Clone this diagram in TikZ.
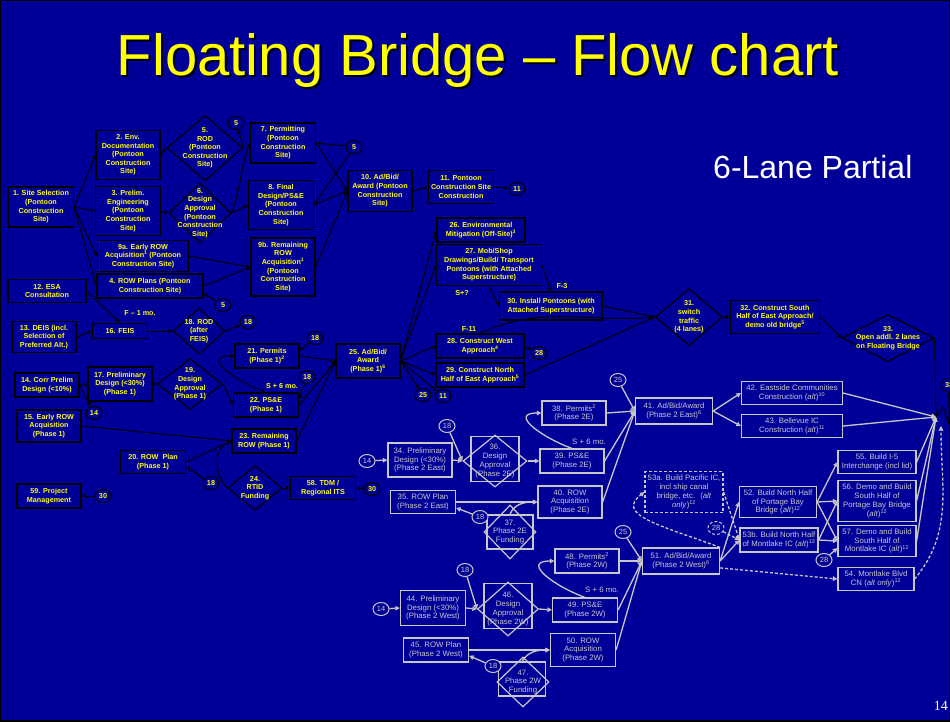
\documentclass[tikz,border=0pt]{standalone}
\usepackage{fontspec}
\setmainfont{Liberation Sans}
\setsansfont{Liberation Sans}
\newfontfamily\serifnum{Liberation Serif}
\usetikzlibrary{shapes.geometric,arrows.meta}
\definecolor{bg}{RGB}{0,0,153}
\definecolor{yel}{RGB}{255,255,0}
\definecolor{gry}{RGB}{200,200,200}
\begin{document}
\begin{tikzpicture}[x=1pt,y=-1pt,
  wh/.style 2 args={minimum width=#1, minimum height=#2},
  bx1/.style={rectangle, draw=black, line width=1.2pt, fill=bg, text=yel, font=\fontsize{7.2}{8.6}\selectfont\bfseries, align=center, inner sep=0.5pt},
  bx2/.style={rectangle, draw=gry, line width=1.2pt, fill=bg, text=gry, font=\fontsize{7.8}{8.8}\selectfont, align=center, inner sep=0.5pt},
  t1/.style={text=yel, font=\fontsize{7.2}{8.6}\selectfont\bfseries, align=center, inner sep=0pt},
  t2/.style={text=gry, font=\fontsize{7.8}{8.8}\selectfont, align=center, inner sep=0pt},
  dm1/.style={diamond, draw=black, line width=1.2pt, fill=bg, inner sep=0pt},
  dm2/.style={diamond, draw=gry, line width=1.2pt, inner sep=0pt},
  rb2/.style={rectangle, draw=gry, line width=1.2pt, inner sep=0pt},
  ci1/.style={ellipse, draw=black, line width=1pt, fill=bg, text=yel, font=\fontsize{7.2}{8}\selectfont\bfseries, inner sep=0pt, minimum width=16, minimum height=13},
  ci2/.style={ellipse, draw=gry, line width=1pt, fill=bg, text=gry, font=\fontsize{7.5}{8}\selectfont, inner sep=0pt, minimum width=16, minimum height=13},
  a1/.style={draw=black, line width=1pt, -{Triangle[length=4pt,width=3.6pt,fill=yel]}},
  a2/.style={draw=gry, line width=1.3pt, -{Triangle[length=4.5pt,width=4.5pt,open]}},
  dsh/.style={dash pattern=on 3pt off 2pt}
]
\useasboundingbox (0,0) rectangle (950,721);
\fill[bg] (0,0) rectangle (950,721);
\draw[black,line width=2pt] (0,0) rectangle (950,721);

% titles
\node[anchor=base, text=black, font=\fontsize{58}{60}\selectfont] (titleshadow) at (480,77) {Floating Bridge \textendash{} Flow chart};
\node[anchor=base, text=yel, font=\fontsize{58}{60}\selectfont] (title) at (478,75) {Floating Bridge \textendash{} Flow chart};
\node[anchor=base west, text=white, font=\fontsize{32}{34}\selectfont, inner sep=0pt] (subtitle) at (713,178) {6-Lane Partial};
\node[anchor=base east, text=white, font=\serifnum\fontsize{14}{16}\selectfont, inner sep=0pt] (pagenum) at (948,710) {14};

% ---------- Phase 1 boxes ----------
\node[bx1, wh={65}{40}] (n1) at (41,207) {1. Site Selection\\(Pontoon\\Construction\\Site)};
\node[bx1, wh={64}{49}] (n2) at (128,155) {2. Env.\\Documentation\\(Pontoon\\Construction\\Site)};
\node[bx1, wh={65}{49}] (n3) at (128,211) {3. Prelim.\\Engineering\\(Pontoon\\Construction\\Site)};
\node[bx1, wh={65}{40}] (n7) at (283,143) {7. Permitting\\(Pontoon\\Construction\\Site)};
\node[bx1, wh={65}{49}] (n8) at (281,205) {8. Final\\Design/PS\&E\\(Pontoon\\Construction\\Site)};
\node[bx1, wh={91}{31}] (n9a) at (143,256) {9a. Early ROW\\Acquisition\textsuperscript{1} (Pontoon\\Construction Site)};
\node[bx1, wh={64}{58}] (n9b) at (283,267) {9b. Remaining\\ROW\\Acquisition\textsuperscript{1}\\(Pontoon\\Construction\\Site)};
\node[bx1, wh={106}{24}] (n4) at (150,286) {4. ROW Plans (Pontoon\\Construction Site)};
\node[bx1, wh={78}{23}] (n12) at (47,291) {12. ESA\\Consultation};
\node[bx1, wh={64}{41}] (n10) at (380,191) {10. Ad/Bid/\\Award (Pontoon\\Construction\\Site)};
\node[bx1, wh={65}{33}] (n11) at (461,187) {11. Pontoon\\Construction Site\\Construction};
\node[bx1, wh={88}{24}] (n26) at (481,230) {26. Environmental\\Mitigation (Off-Site)\textsuperscript{3}};
\node[bx1, wh={105}{41}] (n27) at (489,265) {27. Mob/Shop\\Drawings/Build/ Transport\\Pontoons (with Attached\\Superstructure)};
\node[bx1, wh={103}{28}] (n30) at (551,306) {30. Install Pontoons (with\\Attached Superstructure)};
\node[bx1, wh={89}{33}] (n32) at (775,317) {32. Construct South\\Half of East Approach/\\demo old bridge\textsuperscript{5}};
\node[bx1, wh={64}{31}] (n13) at (44,337) {13. DEIS (incl.\\Selection of\\Preferred Alt.)};
\node[bx1, wh={55}{15}] (n16) at (120,331) {16. FEIS};
\node[bx1, wh={64}{24}] (n21) at (267,356) {21. Permits\\(Phase 1)\textsuperscript{2}};
\node[bx1, wh={65}{24}] (n22) at (266,405) {22. PS\&E\\(Phase 1)};
\node[bx1, wh={64}{24}] (n14) at (47,385) {14. Corr Prelim\\Design (<10\%)};
\node[bx1, wh={64}{34}] (n17) at (120,384) {17. Preliminary\\Design (<30\%)\\(Phase 1)};
\node[bx1, wh={64}{32}] (n15) at (49,426) {15. Early ROW\\Acquisition\\(Phase 1)};
\node[bx1, wh={64}{24}] (n23) at (264,441) {23. Remaining\\ROW (Phase 1)};
\node[bx1, wh={65}{23}] (n20) at (153,462) {20. ROW~ Plan\\(Phase 1)};
\node[bx1, wh={65}{23}] (n58) at (323,488) {58. TDM /\\Regional ITS};
\node[bx1, wh={64}{24}] (n59) at (49,496) {59. Project\\Management};
\node[bx1, wh={64}{34}] (n25) at (368,361) {25. Ad/Bid/\\Award\\(Phase 1)\textsuperscript{6}};
\node[bx1, wh={88}{24}] (n28) at (480,346) {28. Construct West\\Approach\textsuperscript{4}};
\node[bx1, wh={88}{24}] (n29) at (480,375) {29. Construct North\\Half of East Approach\textsuperscript{5}};

% Phase 1 diamonds
\node[dm1, wh={76}{65}, label={[t1]center:{5.\\ROD\\(Pontoon\\Construction\\Site)}}] (n5) at (205,148) {};
\node[dm1, wh={62}{60}, label={[t1]center:{6.\\Design\\Approval\\(Pontoon\\Construction\\Site)}}] (n6) at (200,213) {};
\node[dm1, wh={52}{46}, label={[t1]center:{18. ROD\\(after\\FEIS)}}] (n18) at (199,331) {};
\node[dm1, wh={65}{51}, label={[t1]center:{19.\\Design\\Approval\\(Phase 1)}}] (n19) at (190,384) {};
\node[dm1, wh={54}{45}, label={[t1]center:{24.\\RTID\\Funding}}] (n24) at (255,488) {};
\node[dm1, wh={67}{57}, label={[t1]center:{31.\\switch\\traffic\\(4 lanes)}}] (n31) at (689,317) {};
\node[dm1, wh={92}{47}, label={[t1]center:{33.\\Open addl. 2 lanes\\on Floating Bridge}}] (n33) at (888,338) {};

% Phase 1 circles
\node[ci1] (c5a) at (236,123) {5};
\node[ci1] (c5b) at (223,305) {5};
\node[ci1] (c5c) at (354,147) {5};
\node[ci1] (c11a) at (517,189) {11};
\node[ci1] (c18a) at (248,322) {18};
\node[ci1] (c18b) at (315,338) {18};
\node[ci1] (c18c) at (307,377) {18};
\node[ci1] (c14a) at (94,413) {14};
\node[ci1] (c18d) at (211,483) {18};
\node[ci1] (c30a) at (372,489) {30};
\node[ci1] (c30b) at (103,496) {30};
\node[ci1] (c25a) at (423,395) {25};
\node[ci1] (c11b) at (443,396) {11};
\node[ci1] (c28a) at (539,353) {28};
\node[ci1] (c33) at (949,385) {33};

% Phase 1 labels
\node[t1] (lf1) at (140,313) {F \textendash{} 1 mo.};
\node[t1] (ls6a) at (282,386) {S + 6 mo.};
\node[t1] (lsq) at (462,293) {S+?};
\node[t1] (lf3) at (562,286) {F-3};
\node[t1] (lf11) at (469,329) {F-11};

% ---------- Phase 2 boxes ----------
\node[bx2, wh={64}{24}] (n38) at (574,413) {38. Permits\textsuperscript{2}\\(Phase 2E)};
\node[bx2, wh={64}{34}] (n34) at (420,460) {34. Preliminary\\Design (<30\%)\\(Phase 2 East)};
\node[bx2, wh={64}{24}] (n39) at (572,461) {39. PS\&E\\(Phase 2E)};
\node[bx2, wh={65}{23}] (n35) at (423,502) {35. ROW Plan\\(Phase 2 East)};
\node[bx2, wh={64}{32}] (n40) at (570,502) {40. ROW\\Acquisition\\(Phase 2E)};
\node[bx2, wh={77}{26}] (n41) at (674,411) {41. Ad/Bid/Award\\(Phase 2 East)\textsuperscript{6}};
\node[bx2, wh={101}{23}] (n42) at (792,393) {42. Eastside Communities\\Construction (\textit{alt})\textsuperscript{10}};
\node[bx2, wh={101}{23}] (n43) at (792,426) {43. Bellevue IC\\Construction (\textit{alt})\textsuperscript{11}};
\node[bx2, wh={78}{23}] (n55) at (877,462) {55. Build I-5\\Interchange (incl lid)};
\node[bx2, dsh, wh={78}{41}] (n53a) at (684,492) {53a. Build Pacific IC,\\incl ship canal\\bridge, etc.~ (\textit{alt}\\\textit{only})\textsuperscript{12}};
\node[bx2, wh={77}{31}] (n52) at (778,502) {52. Build North Half\\of Portage Bay\\Bridge (\textit{alt})\textsuperscript{12}};
\node[bx2, wh={78}{41}] (n56) at (877,501) {56. Demo and Build\\South Half of\\Portage Bay Bridge\\(\textit{alt})\textsuperscript{12}};
\node[bx2, wh={78}{24}] (n53b) at (779,540) {53b. Build North Half\\of Montlake IC (\textit{alt})\textsuperscript{12}};
\node[bx2, wh={78}{31}] (n57) at (877,541) {57. Demo and Build\\South Half of\\Montlake IC (\textit{alt})\textsuperscript{12}};
\node[bx2, wh={77}{26}] (n51) at (681,561) {51. Ad/Bid/Award\\(Phase 2 West)\textsuperscript{6}};
\node[bx2, wh={76}{23}] (n54) at (876,579) {54. Montlake Blvd\\CN (\textit{alt only})\textsuperscript{12}};
\node[bx2, wh={64}{24}] (n48) at (587,561) {48. Permits\textsuperscript{2}\\(Phase 2W)};
\node[bx2, wh={65}{35}] (n44) at (433,608) {44. Preliminary\\Design (<30\%)\\(Phase 2 West)};
\node[bx2, wh={65}{24}] (n49) at (585,610) {49. PS\&E\\(Phase 2W)};
\node[bx2, wh={65}{24}] (n45) at (436,650) {45. ROW Plan\\(Phase 2 West)};
\node[bx2, wh={65}{33}] (n50) at (583,650) {50. ROW\\Acquisition\\(Phase 2W)};

% Phase 2 diamonds with frames
\node[rb2, wh={48}{45}] (n36r) at (495,459) {};
\node[dm2, wh={64}{52}, label={[t2]center:{36.\\Design\\Approval\\(Phase 2E)}}] (n36) at (495,461) {};
\node[rb2, wh={46}{34}] (n37r) at (510,532) {};
\node[dm2, wh={52}{54}, label={[t2]center:{37.\\Phase 2E\\Funding}}] (n37) at (510,532) {};
\node[rb2, wh={48}{45}] (n46r) at (508,606) {};
\node[dm2, wh={61}{54}, label={[t2]center:{46.\\Design\\Approval\\(Phase 2W)}}] (n46) at (508,609) {};
\node[rb2, wh={47}{34}] (n47r) at (522,679) {};
\node[dm2, wh={52}{50}, label={[t2]center:{47.\\Phase 2W\\Funding}}] (n47) at (523,682) {};

% Phase 2 circles
\node[ci2] (c25b) at (618,380) {25};
\node[ci2] (c18e) at (447,426) {18};
\node[ci2] (c14b) at (367,461) {14};
\node[ci2] (c18f) at (480,517) {18};
\node[ci2] (c25c) at (623,532) {25};
\node[ci2, dsh] (c28b) at (716,528) {28};
\node[ci2] (c28c) at (824,560) {28};
\node[ci2] (c18g) at (465,570) {18};
\node[ci2] (c14c) at (381,609) {14};
\node[ci2] (c18h) at (493,666) {18};

% Phase 2 labels
\node[t2] (ls6b) at (589,442) {S + 6 mo.};
\node[t2] (ls6c) at (602,590) {S + 6 mo.};

\coordinate (conv) at (936,417);
\coordinate (convb) at (941,426);
\coordinate (z1) at (943,407);
\coordinate (z2) at (949,424);

% ---------- Phase 1 connectors ----------
\draw[a1] (n1.east) -- (n2.west);
\draw[a1] (n1.east) -- (n3.west);
\draw[a1] (n1.east) -- (n9a.west);
\draw[a1] (n1.east) -- (n4.west);
\draw[a1] (n2.east) -- (n5.west);
\draw[a1] (n3.east) -- (n6.west);
\draw[a1] (n5.east) -- (c5a);
\draw[a1] (n6.east) to[out=70,in=250] (n7.west);
\draw[a1] (n6.east) -- (n8.west);
\draw[a1] (n9a.east) -- (n9b.west);
\draw[a1] (n4.east) -- (n9b.west);
\draw[a1] (c5b) -- (n4.-8);
\draw[a1] (c5c) -- (n7.east);
\draw[a1] (c5c) -- (n8.east);
\draw[a1] (n7.east) -- (n10.west);
\draw[a1] (n8.east) -- (n10.west);
\draw[a1] (n9b.east) -- (n10.west);
\draw[a1] (n10.east) -- (n11.west);
\draw[a1] (n11.east) -- (c11a);
\draw[a1] (n12.east) -- (n16.north);
\draw[a1] (n13.east) -- (n16.west);
\draw[a1] (n16.east) -- (n18.west);
\draw[a1] (n18.east) -- (c18a);
\draw[a1] (n14.east) -- (n17.west);
\draw[a1] (n14.east) -- (c14a);
\draw[a1] (n17.east) -- (n19.west);
\draw[a1] (n19.east) -- (n22.west);
\draw[a1] (n22.north) to[out=160,in=180,looseness=1.8] (n21.west);
\draw[a1] (c18b) -- (n21.10);
\draw[a1] (n21.east) -- (n25.west);
\draw[a1] (c18c) -- (n22.10);
\draw[a1] (n22.east) -- (n25.west);
\draw[a1] (n23.east) -- (n25.west);
\draw[a1] (n15.east) -- (n23.west);
\draw[a1] (n20.east) -- (n23.west);
\draw[a1] (n24.west) .. controls (215,475) and (212,450) .. (n23.west);
\draw[a1] (c18d) -- (n20.-8);
\draw[a1] (n24.east) -- (n58.west);
\draw[a1] (c30a) -- (n58.east);
\draw[a1] (c30b) -- (n59.east);
\draw[a1] (n25.east) -- (n26.west);
\draw[a1] (n25.east) -- (n27.west);
\draw[a1] (n25.east) -- (n28.west);
\draw[a1] (n25.east) -- (n29.west);
\draw[a1] (n25.east) -- (c25a);
\draw[a1] (n25.east) -- (c11b);
\draw[a1] (n27.south) -- (n30.west);
\draw[a1] (n27.east) -- (n30.north);
\draw[a1] (n30.east) -- (n31.west);
\draw[a1] (n28.north) to[out=25,in=185] (n31.west);
\draw[a1] (n29.east) -- (n31.west);
\draw[a1] (n28.east) -- (c28a);
\draw[a1] (n31.east) -- (n32.west);
\draw[a1] (n32.east) -- (n33.west);
\draw[a1] (n33.east) -- (conv);
\draw[a1] (conv) -- (z1) -- (z2) -- (c33);

% ---------- Phase 2 connectors ----------
\draw[a2] (c14b) -- (n34.west);
\draw[a2] (n34.east) -- (n36.west);
\draw[a2] (c18e) -- (n36.west);
\draw[a2] (n36.east) -- (n39.west);
\draw[a2] (n39.north) to[out=160,in=180,looseness=1.8] (n38.west);
\draw[a2] (n38.east) -- (n41.west);
\draw[a2] (n39.east) -- (n41.west);
\draw[a2] (n40.east) -- (n41.west);
\draw[a2] (c25b) -- (n41.west);
\draw[a2] (n35.east) -- (n40.west);
\draw[a2] (c18f) -- (n35.-10);
\draw[a2] (n37r.north) to[out=70,in=180] (n40.west);
\draw[a2] (n41.east) -- (n42.west);
\draw[a2] (n41.east) -- (n43.west);
\draw[a2] (n42.east) -- (conv);
\draw[a2] (n43.east) -- (conv);
\draw[a2] (n55.east) -- (conv);
\draw[a2] (n56.east) -- (conv);
\draw[a2] (n57.east) -- (conv);
\draw[a2,dsh] (n54.east) to[out=50,in=-90] (convb);
\draw[a2] (n51.east) -- (n52.west);
\draw[a2] (n51.east) -- (n53b.west);
\draw[a2,dsh] (n51.-10) -- (n54.west);
\draw[a2,dsh] (n51.north east) .. controls (660,525) and (615,515) .. (n53a.west);
\draw[a2,dsh] (n53a.east) -- (n53b.west);
\draw[a2,dsh] (c28b) -- (n53b.west);
\draw[a2] (n52.east) -- (n55.west);
\draw[a2] (n52.east) -- (n56.west);
\draw[a2] (n52.east) -- (n57.west);
\draw[a2] (n53b.east) -- (n56.west);
\draw[a2] (n53b.east) -- (n57.west);
\draw[a2] (c28c) -- (n57.190);
\draw[a2] (c25c) -- (n51.west);
\draw[a2] (n48.east) -- (n51.west);
\draw[a2] (n49.east) -- (n51.west);
\draw[a2] (n50.east) -- (n51.west);
\draw[a2] (c14c) -- (n44.west);
\draw[a2] (n44.east) -- (n46.west);
\draw[a2] (c18g) -- (n46.west);
\draw[a2] (n46.east) -- (n49.west);
\draw[a2] (n49.north) to[out=160,in=180,looseness=1.8] (n48.west);
\draw[a2] (n45.east) -- (n50.west);
\draw[a2] (c18h) -- (n45.-10);
\draw[a2] (n47r.north) to[out=60,in=180] (n50.west);
\end{tikzpicture}
\end{document}
